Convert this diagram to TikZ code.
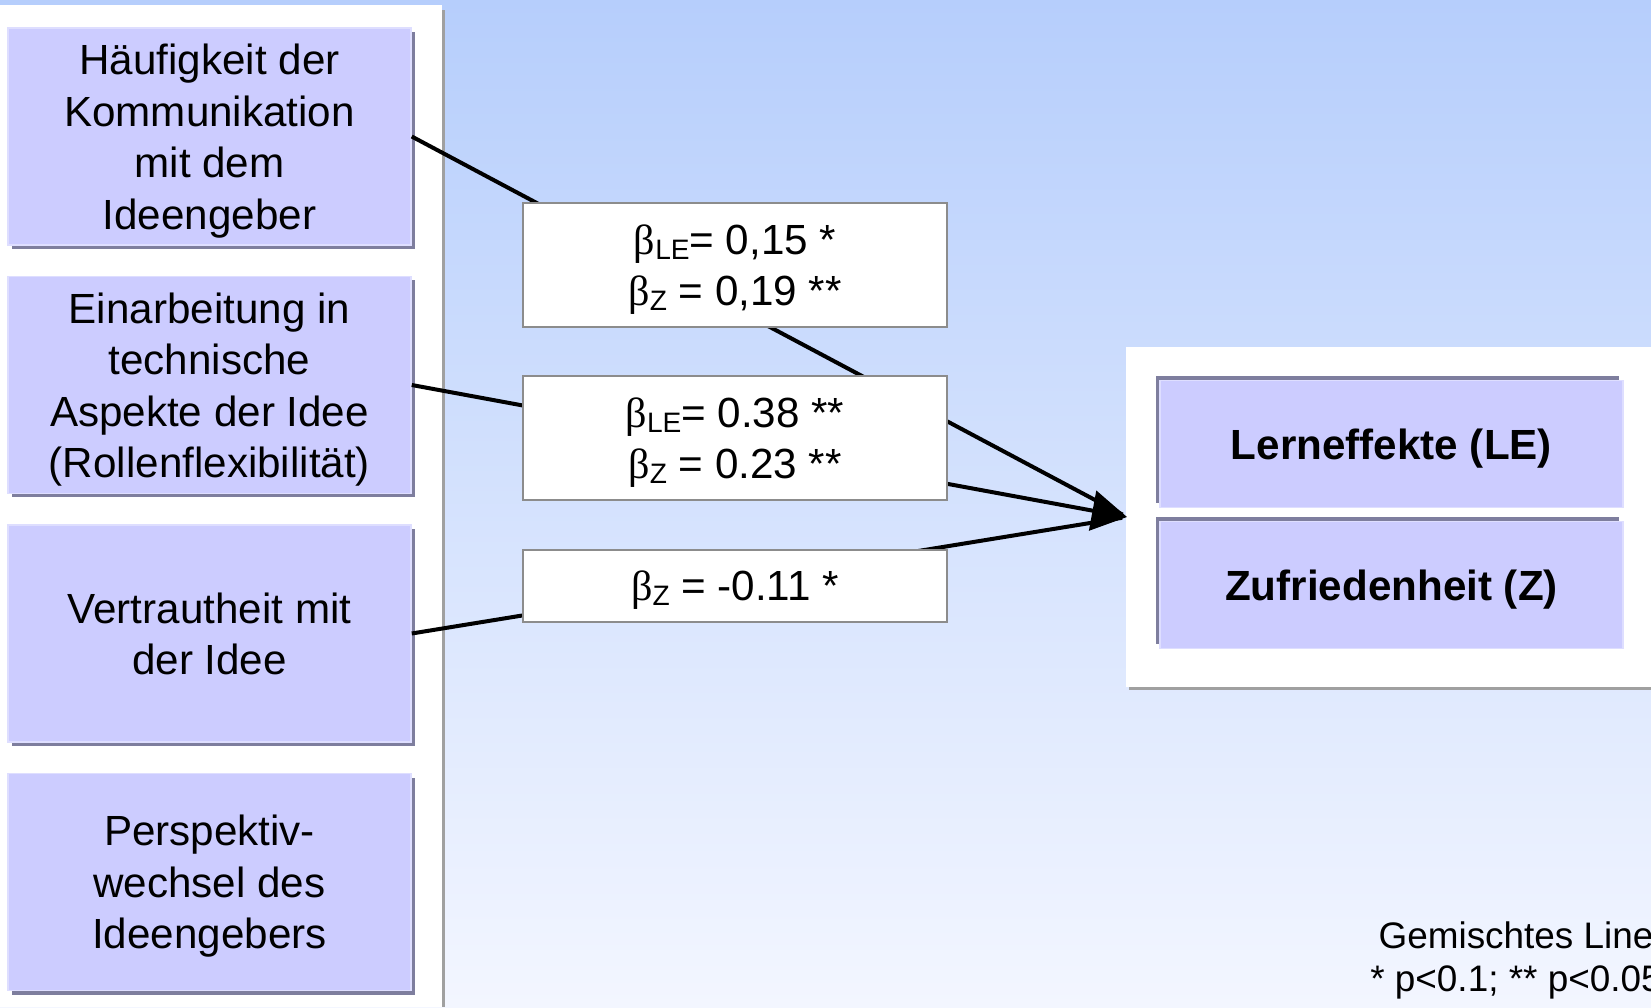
\documentclass[tikz,border=0pt]{standalone}
\usepackage{fontspec}
\setmainfont{Liberation Sans}
\newfontfamily\betafont{Liberation Serif}
\usetikzlibrary{arrows.meta, shadows}
\definecolor{bgtop}{RGB}{182,206,252}
\definecolor{bgbottom}{RGB}{243,246,255}
\definecolor{factorcolor}{RGB}{204,204,255}
\definecolor{factorlight}{RGB}{222,222,255}
\definecolor{shadowcolor}{RGB}{126,126,158}
\definecolor{panelshadow}{RGB}{160,160,160}
\definecolor{coefborder}{RGB}{140,140,140}
\newcommand{\betasub}[1]{{\betafont β}\raisebox{-0.1cm}{\fontsize{16}{16}\selectfont #1}}

\begin{document}
\begin{tikzpicture}[
    factor/.style={fill=factorcolor, draw=factorlight, line width=0.03cm, minimum width=8.06cm, minimum height=4.34cm, align=center, text depth=0pt, font=\fontsize{24}{29.3}\selectfont, drop shadow={shadow xshift=0.08cm, shadow yshift=-0.08cm, fill=shadowcolor, opacity=1}},
    outcome/.style={fill=factorcolor, draw=factorlight, line width=0.03cm, minimum width=9.26cm, minimum height=2.54cm, text depth=0pt, font=\bfseries\fontsize{24}{28.7}\selectfont, drop shadow={shadow xshift=-0.08cm, shadow yshift=0.08cm, fill=shadowcolor, opacity=1}},
    coef/.style={fill=white, draw=coefborder, line width=0.04cm, minimum width=8.48cm, align=center, text depth=0pt, font=\fontsize{24}{29.2}\selectfont},
    link/.style={line width=0.08cm},
    arrow/.style={link, -{Triangle[length=0.7cm, width=0.8cm]}}
]
    \useasboundingbox (0,0) rectangle (33.02,20.14);
    \shade[top color=bgtop, bottom color=bgbottom] (0,0) rectangle (33.02,20.14);

    % Panels
    \fill[panelshadow] (0.06,0) rectangle (8.9,19.94);
    \fill[white] (0,0) rectangle (8.84,20.04);
    \fill[panelshadow] (22.58,6.34) rectangle (33.02,13.14);
    \fill[white] (22.52,6.4) rectangle (33.02,13.2);

    % Factors
    \node[factor] (freq) at (4.19,17.41) {Häufigkeit der\\Kommunikation\\mit dem\\Ideengeber};
    \node[factor] (tech) at (4.19,12.44) {Einarbeitung in\\technische\\Aspekte der Idee\\(Rollenflexibilität)};
    \node[factor] (famil) at (4.19,7.47) {Vertrautheit mit\\der Idee};
    \node[factor] (persp) at (4.19,2.50) {Perspektiv-\\wechsel des\\Ideengebers};

    % Outcomes
    \node[outcome] (learn) at (27.83,11.26) {Lerneffekte (LE)};
    \node[outcome] (satis) at (27.83,8.44) {Zufriedenheit (Z)};
    \coordinate (target) at (22.54,9.80);

    % Effects
    \draw[link, shorten >=0.1cm] (freq.east) -- (target);
    \draw[arrow] (tech.east) -- (target);
    \draw[link, shorten >=0.1cm] (famil.east) -- (target);

    \node[coef, minimum height=2.48cm] (coefA) at (14.70,14.84) {\betasub{LE}= 0,15 *\\\betasub{Z} = 0,19 **};
    \node[coef, minimum height=2.48cm] (coefB) at (14.70,11.38) {\betasub{LE}= 0.38 **\\\betasub{Z} = 0.23 **};
    \node[coef, minimum height=1.44cm] (coefC) at (14.70,8.42) {\betasub{Z} = -0.11 *};

    \node[align=center, inner sep=0pt, anchor=south, font=\fontsize{21}{25}\selectfont] (note) at (30.32,0.14) {Gemischtes Line\\* p<0.1; ** p<0.05};
\end{tikzpicture}
\end{document}
